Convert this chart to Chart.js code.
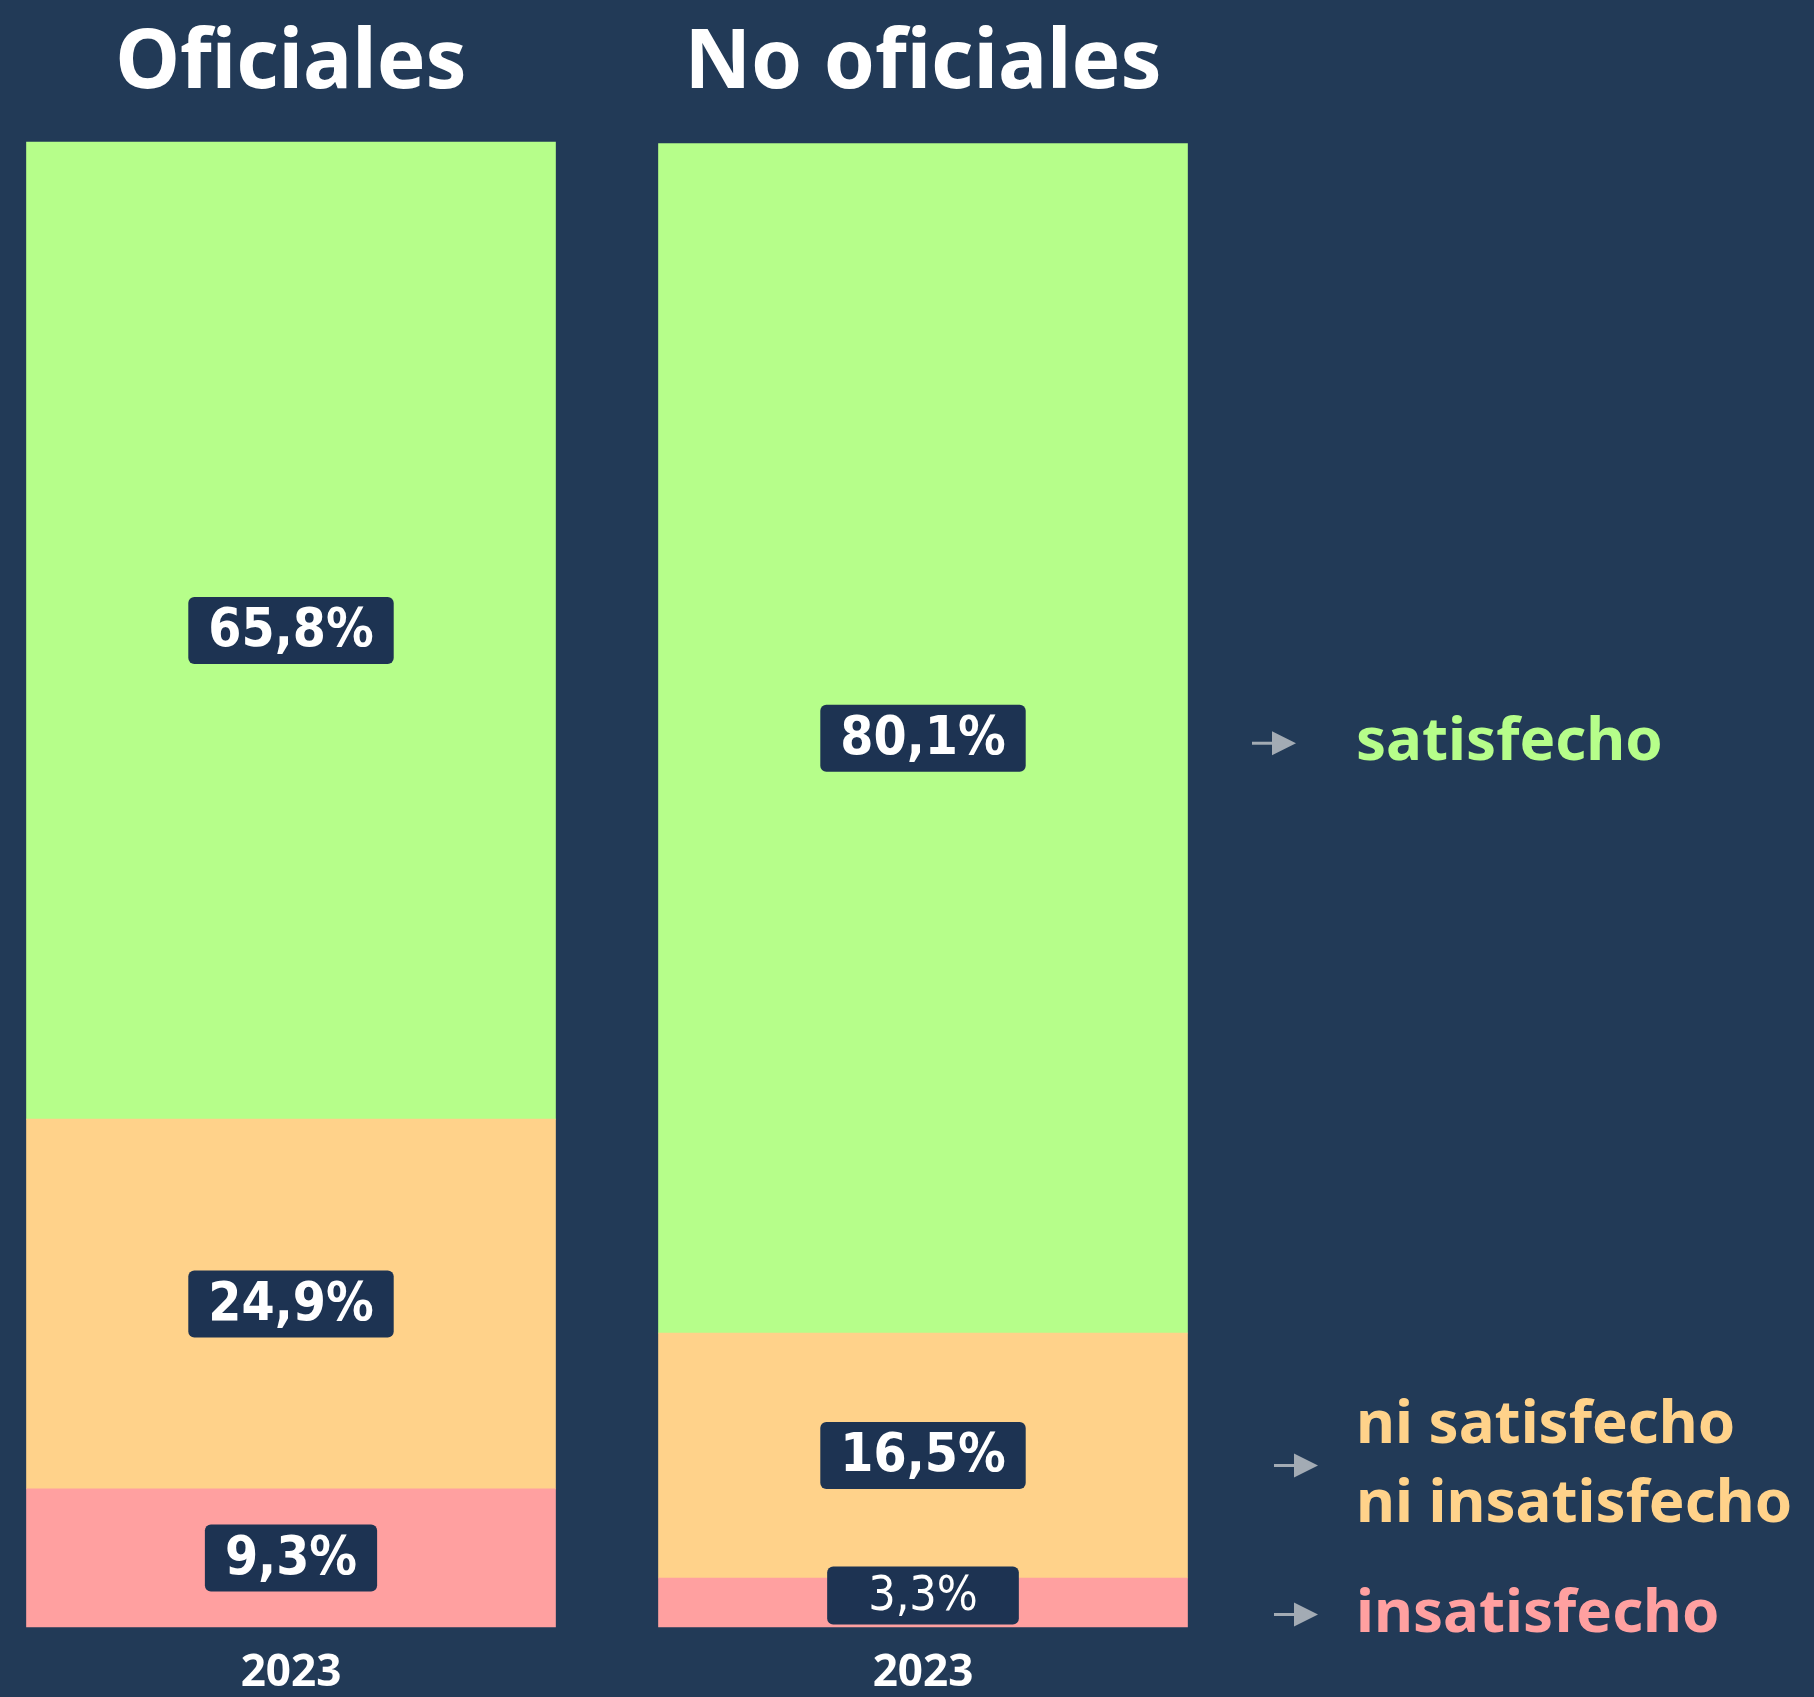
<!DOCTYPE html>
<html>
<head>
<meta charset="utf-8">
<script src="https://cdn.jsdelivr.net/npm/chart.js@4/dist/chart.umd.min.js"></script>
<style>
  html, body { margin: 0; padding: 0; background: #223a57; overflow: hidden; }
  #wrap { width: 1814px; height: 1697px; position: relative; }
</style>
</head>
<body>
<div id="wrap"><canvas id="satChart"></canvas></div>
<script>
// data
const groups = ["Oficiales", "No oficiales"];
const years = ["2023", "2023"];
const insatisfecho = [9.3, 3.3];
const neutro = [24.9, 16.5];
const satisfecho = [65.8, 80.1];

const GREEN = "#b6fe8a";
const ORANGE = "#ffd28a";
const PINK = "#ffa0a0";

function fmt(v) {
  return v.toFixed(1).replace(".", ",") + "%";
}

// boxed value labels in the middle of each segment
const valueLabels = {
  id: "valueLabels",
  afterDatasetsDraw(chart) {
    const ctx = chart.ctx;
    chart.data.datasets.forEach((ds, di) => {
      const meta = chart.getDatasetMeta(di);
      meta.data.forEach((bar, i) => {
        const v = ds.data[i];
        const small = v < 5;
        const cy = small ? (bar.y + bar.base) / 2 - 7 : (bar.y + bar.base) / 2;
        ctx.save();
        ctx.font = small
          ? '48px "DejaVu Sans Condensed", "DejaVu Sans", sans-serif'
          : 'bold 53px "DejaVu Sans Condensed", "DejaVu Sans", sans-serif';
        const text = fmt(v);
        const w = ctx.measureText(text).width + (small ? 82 : 40);
        const h = small ? 58 : 67;
        ctx.fillStyle = "#1d3352";
        ctx.beginPath();
        ctx.roundRect(bar.x - w / 2, cy - h / 2, w, h, 6);
        ctx.fill();
        ctx.fillStyle = "#ffffff";
        ctx.textAlign = "center";
        ctx.textBaseline = "middle";
        ctx.fillText(text, bar.x, cy + 2);
        ctx.restore();
      });
    });
  }
};

// labels at the right of the second bar, with grey arrows
const sideLegend = {
  id: "sideLegend",
  afterDraw(chart) {
    const ctx = chart.ctx;
    chart.data.datasets.forEach((ds, di) => {
      const bar = chart.getDatasetMeta(di).data[1];
      const cy = (bar.y + bar.base) / 2 + ds.labelShift;
      const lines = ds.sideText;
      ctx.save();
      ctx.font = 'bold 60px "Noto Sans", sans-serif';
      ctx.fillStyle = ds.backgroundColor;
      ctx.textAlign = "left";
      ctx.textBaseline = "middle";
      const lh = 79;
      lines.forEach((ln, k) => {
        ctx.fillText(ln, 1356, cy + (k - (lines.length - 1) / 2) * lh);
      });
      // arrow
      const ax = ds.arrowX;
      ctx.strokeStyle = "#a3abb4";
      ctx.fillStyle = "#a3abb4";
      ctx.lineWidth = 3;
      ctx.beginPath();
      ctx.moveTo(ax, cy);
      ctx.lineTo(ax + 26, cy);
      ctx.stroke();
      ctx.beginPath();
      ctx.moveTo(ax + 20, cy - 12);
      ctx.lineTo(ax + 44, cy);
      ctx.lineTo(ax + 20, cy + 12);
      ctx.closePath();
      ctx.fill();
      ctx.restore();
    });
  }
};

const ctx = document.getElementById("satChart").getContext("2d");

const chart = new Chart(ctx, {
  type: "bar",
  data: {
    labels: years,
    datasets: [
      { label: "insatisfecho", data: insatisfecho, backgroundColor: PINK,
        sideText: ["insatisfecho"], labelShift: 12, arrowX: 1274 },
      { label: "ni satisfecho ni insatisfecho", data: neutro, backgroundColor: ORANGE,
        sideText: ["ni satisfecho", "ni insatisfecho"], labelShift: 10, arrowX: 1274 },
      { label: "satisfecho", data: satisfecho, backgroundColor: GREEN,
        sideText: ["satisfecho"], labelShift: 5, arrowX: 1252 }
    ].map(d => Object.assign(d, { barThickness: 529, clip: false, borderWidth: 0 }))
  },
  options: {
    responsive: true,
    maintainAspectRatio: false,
    animation: false,
    layout: { padding: { left: 291, right: 891, top: 0, bottom: 0 } },
    plugins: {
      legend: { display: false },
      tooltip: { enabled: false }
    },
    scales: {
      x: {
        stacked: true,
        offset: false,
        grid: { display: false, drawTicks: false },
        border: { display: false },
        afterFit: s => { s.height = 70; },
        ticks: {
          color: "#ffffff",
          font: { family: "'Noto Sans', sans-serif", size: 44, weight: "bold" },
          padding: 20,
          maxRotation: 0,
          autoSkip: false
        }
      },
      xTop: {
        type: "category",
        labels: groups,
        position: "top",
        offset: false,
        grid: { display: false, drawTicks: false },
        border: { display: false },
        afterFit: s => { s.height = 142; },
        ticks: {
          color: "#ffffff",
          font: { family: "'Noto Sans', sans-serif", size: 82, weight: "bold" },
          padding: 28,
          maxRotation: 0,
          autoSkip: false
        }
      },
      y: {
        stacked: true,
        min: 0,
        max: 100,
        display: false
      }
    }
  },
  plugins: [valueLabels, sideLegend]
});
</script>
</body>
</html>
